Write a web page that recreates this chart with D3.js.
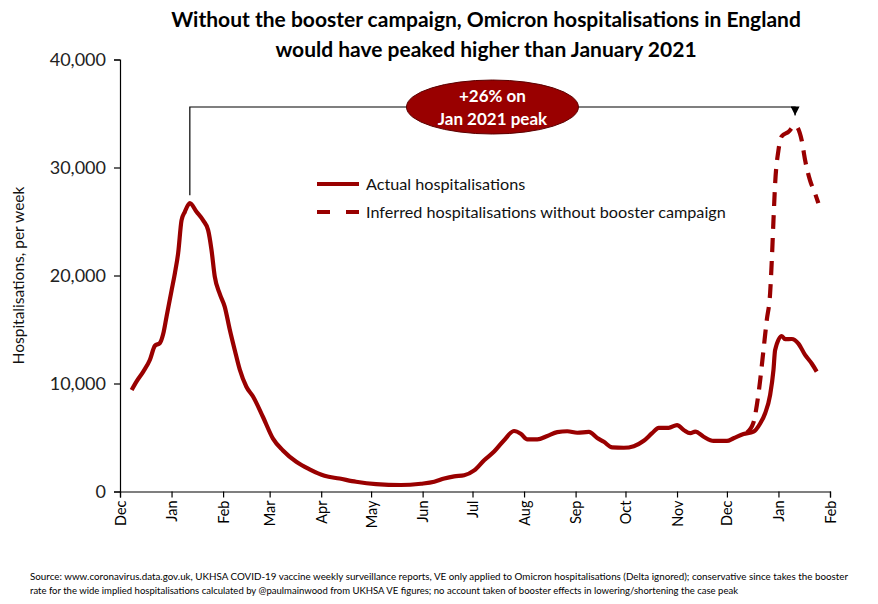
<!DOCTYPE html>
<html>
<head>
<meta charset="utf-8">
<script src="https://cdn.jsdelivr.net/npm/d3@7"></script>
<style>
  body { margin: 0; background: #fff; }
  svg { font-family: Lato, "Open Sans", sans-serif; }
</style>
</head>
<body>
<svg width="878" height="604"></svg>
<script>
// Actual hospitalisations (7-day totals)
var actualDates = ["2020-12-08","2020-12-11","2020-12-15","2020-12-19","2020-12-22","2020-12-25","2020-12-27","2020-12-29",
  "2021-01-01","2021-01-03","2021-01-05","2021-01-07","2021-01-09","2021-01-12","2021-01-16","2021-01-20","2021-01-23",
  "2021-01-25","2021-01-27","2021-01-30","2021-02-02","2021-02-05","2021-02-08","2021-02-11","2021-02-15","2021-02-19",
  "2021-02-25","2021-03-03","2021-03-09","2021-03-17","2021-03-25","2021-04-03","2021-04-12","2021-04-22","2021-05-04",
  "2021-05-19","2021-05-31","2021-06-08","2021-06-14","2021-06-20","2021-06-26","2021-07-02","2021-07-08","2021-07-14",
  "2021-07-20","2021-07-26","2021-07-30","2021-08-03","2021-08-09","2021-08-15","2021-08-21","2021-08-27","2021-09-02",
  "2021-09-09","2021-09-14","2021-09-18","2021-09-23","2021-09-30","2021-10-06","2021-10-12","2021-10-17","2021-10-21",
  "2021-10-27","2021-11-01","2021-11-05","2021-11-09","2021-11-12","2021-11-17","2021-11-23","2021-12-01","2021-12-05",
  "2021-12-11","2021-12-17","2021-12-21","2021-12-24","2021-12-27","2021-12-29","2021-12-30","2022-01-03","2022-01-05",
  "2022-01-09","2022-01-13","2022-01-17","2022-01-21","2022-01-24"];
var actualValues = [9400,10200,11100,12200,13500,13750,14600,16200,
  18600,20200,22100,25100,25900,26700,25900,25100,24200,
  22400,19900,18300,17100,15000,13100,11300,9700,8800,
  6900,4900,3800,2750,2050,1450,1200,900,680,
  600,720,900,1200,1400,1500,1950,2900,3700,
  4750,5600,5350,4830,4830,5140,5500,5580,5440,
  5520,4950,4600,4080,4050,4200,4700,5400,5900,
  5900,6150,5700,5400,5550,5070,4680,4680,4930,
  5320,5540,6300,7250,8950,11250,13100,14400,14100,
  14120,13700,12650,11850,11100];

// Inferred hospitalisations without booster campaign
var inferredDates = ["2021-12-13","2021-12-17","2021-12-19","2021-12-21","2021-12-23","2021-12-25","2021-12-27","2021-12-28",
  "2021-12-29","2021-12-30","2022-01-01","2022-01-03","2022-01-07","2022-01-11","2022-01-15","2022-01-17","2022-01-20",
  "2022-01-23","2022-01-25"];
var inferredValues = [5450,6400,8000,10300,13100,15900,18400,21400,
  25100,28500,31600,32900,33300,33900,32500,30700,28800,
  27600,26700];

var yTicks = [0, 10000, 20000, 30000, 40000];
var xTickDates = ["2020-12-01","2021-01-01","2021-02-01","2021-03-01","2021-04-01","2021-05-01","2021-06-01","2021-07-01",
  "2021-08-01","2021-09-01","2021-10-01","2021-11-01","2021-12-01","2022-01-01","2022-02-01"];

var titleLines = ["Without the booster campaign, Omicron hospitalisations in England",
                  "would have peaked higher than January 2021"];
var calloutLines = ["+26% on", "Jan 2021 peak"];
var legendLabels = ["Actual hospitalisations", "Inferred hospitalisations without booster campaign"];
var sourceLines = ["Source: www.coronavirus.data.gov.uk, UKHSA COVID-19 vaccine weekly surveillance reports, VE only applied to Omicron hospitalisations (Delta ignored); conservative since takes the booster",
                   "rate for the wide implied hospitalisations calculated by @paulmainwood from UKHSA VE figures; no account taken of booster effects in lowering/shortening the case peak"];

(function() {
    var parse = d3.timeParse("%Y-%m-%d");
    var red = "#990000";
    var svg = d3.select("svg");

    var actual = actualDates.map(function(d, i) { return {date: parse(d), value: actualValues[i]}; });
    var inferred = inferredDates.map(function(d, i) { return {date: parse(d), value: inferredValues[i]}; });
    var ticks = xTickDates.map(parse);

    var x = d3.scaleTime()
        .domain([ticks[0], ticks[ticks.length - 1]])
        .range([120, 830]);
    var y = d3.scaleLinear()
        .domain([0, 40000])
        .range([491.5, 59.5]);

    // Title
    svg.append("g").selectAll("text")
        .data(titleLines)
      .enter().append("text")
        .attr("x", 486)
        .attr("y", function(d, i) { return 27 + i * 30; })
        .attr("text-anchor", "middle")
        .attr("font-size", "21px")
        .attr("font-weight", "bold")
        .attr("fill", "#000")
        .text(function(d) { return d; });

    // Axes
    var xAxis = svg.append("g")
        .attr("transform", "translate(0," + y(0) + ")")
        .call(d3.axisBottom(x).tickValues(ticks).tickFormat(d3.timeFormat("%b")).tickSizeOuter(0).tickSize(6));
    xAxis.selectAll("text")
        .attr("transform", "rotate(-90)")
        .attr("text-anchor", "end")
        .attr("x", -9)
        .attr("y", 0)
        .attr("dy", "0.35em")
        .attr("font-size", "14.5px")
        .attr("font-family", "Lato")
        .attr("fill", "#000");

    var yAxis = svg.append("g")
        .attr("transform", "translate(" + x.range()[0] + ",0)")
        .call(d3.axisLeft(y).tickValues(yTicks).tickFormat(d3.format(",")).tickSizeOuter(0).tickSize(6));
    yAxis.selectAll("text")
        .attr("x", -14)
        .attr("font-size", "18px")
        .attr("font-family", "Lato")
        .attr("fill", "#222");
    svg.selectAll(".domain, .tick line").attr("stroke", "#000").attr("stroke-width", 1.2);

    svg.append("text")
        .attr("transform", "translate(24," + y(20000) + ") rotate(-90)")
        .attr("text-anchor", "middle")
        .attr("font-size", "15.5px")
        .attr("fill", "#111")
        .text("Hospitalisations, per week");

    // Annotation bracket
    var peakA = actual[d3.maxIndex(actual, function(d) { return d.value; })];
    var peakI = inferred[d3.maxIndex(inferred, function(d) { return d.value; })];
    var xa = x(peakA.date), xi = x(peakI.date), yb = y(35600);
    svg.append("defs").append("marker")
        .attr("id", "arrow")
        .attr("viewBox", "0 0 10 10")
        .attr("refX", 10).attr("refY", 5)
        .attr("markerWidth", 9).attr("markerHeight", 9)
        .attr("markerUnits", "userSpaceOnUse")
        .attr("orient", "auto")
      .append("path")
        .attr("d", "M0,0L10,5L0,10z")
        .attr("fill", "#000");
    svg.append("path")
        .attr("d", "M" + xa + "," + (y(peakA.value) - 8) + "V" + yb + "H" + xi + "V" + (y(peakI.value) - 10))
        .attr("fill", "none")
        .attr("stroke", "#000")
        .attr("stroke-width", 1.2)
        .attr("marker-end", "url(#arrow)");

    var cx = (xa + xi) / 2;
    svg.append("ellipse")
        .attr("cx", cx).attr("cy", yb)
        .attr("rx", 86).attr("ry", 27)
        .attr("fill", red)
        .attr("stroke", "#5a0000")
        .attr("stroke-width", 1);
    svg.append("g").selectAll("text")
        .data(calloutLines)
      .enter().append("text")
        .attr("x", cx)
        .attr("y", function(d, i) { return yb - 5 + i * 23; })
        .attr("text-anchor", "middle")
        .attr("font-size", "17px")
        .attr("font-weight", "bold")
        .attr("fill", "#fff")
        .text(function(d) { return d; });

    // Lines
    var line = d3.line()
        .x(function(d) { return x(d.date); })
        .y(function(d) { return y(d.value); })
        .curve(d3.curveMonotoneX);

    svg.append("path")
        .datum(inferred)
        .attr("d", line)
        .attr("fill", "none")
        .attr("stroke", red)
        .attr("stroke-width", 4.2)
        .attr("stroke-dasharray", "14,9");

    svg.append("path")
        .datum(actual)
        .attr("d", line)
        .attr("fill", "none")
        .attr("stroke", red)
        .attr("stroke-width", 4.2)
        .attr("stroke-linejoin", "round");

    // Legend
    var legend = svg.append("g").attr("transform", "translate(317,184)");
    legendLabels.forEach(function(label, i) {
        legend.append("line")
            .attr("x1", 0).attr("x2", 42)
            .attr("y1", i * 28).attr("y2", i * 28)
            .attr("stroke", red)
            .attr("stroke-width", 4)
            .attr("stroke-dasharray", i === 1 ? "13,16" : null);
        legend.append("text")
            .attr("x", 49)
            .attr("y", i * 28)
            .attr("dy", "0.35em")
            .attr("font-size", "16.2px")
            .attr("fill", "#111")
            .text(label);
    });

    // Source note
    svg.append("g").selectAll("text")
        .data(sourceLines)
      .enter().append("text")
        .attr("x", 30)
        .attr("y", function(d, i) { return 580 + i * 14; })
        .attr("font-size", "10px")
        .attr("textLength", function(d, i) { return i === 0 ? 818 : 708; })
        .attr("lengthAdjust", "spacingAndGlyphs")
        .attr("fill", "#000")
        .text(function(d) { return d; });
})();
</script>
</body>
</html>
